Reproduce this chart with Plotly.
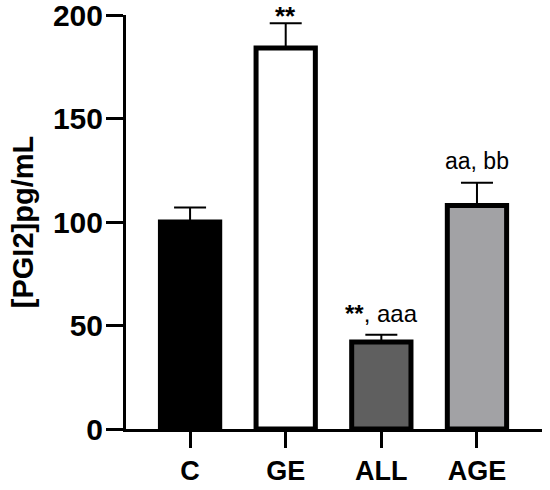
import plotly.graph_objects as go

categories = ["C", "GE", "ALL", "AGE"]
values = [100, 184, 42, 108]
errors = [7, 12, 3.5, 11]
fills = ["#000000", "#ffffff", "#5f5f5f", "#a2a2a5"]
labels = ["", "<b>**</b>", "<b>**</b>, aaa", "aa, bb"]
label_sizes = [20, 26, 24, 23]
label_shifts = [0, -10, 6, 7]

FONT = "Arial, Liberation Sans, sans-serif"

fig = go.Figure()
fig.add_trace(go.Bar(
    x=categories, y=values, width=0.62,
    marker=dict(color=fills, line=dict(color="black", width=5)),
    error_y=dict(type="data", symmetric=False, array=errors,
                 arrayminus=[0] * len(errors), color="black",
                 thickness=2, width=16),
    showlegend=False,
))

for c, v, e, t, s, sh in zip(categories, values, errors, labels, label_sizes, label_shifts):
    if not t:
        continue
    fig.add_annotation(x=c, y=v + e, text=t, showarrow=False,
                       xanchor="center", yanchor="bottom", yshift=sh,
                       font=dict(family=FONT, size=s, color="black"))

fig.update_layout(
    width=550, height=490,
    margin=dict(l=126, r=8, t=15, b=61),
    plot_bgcolor="white", paper_bgcolor="white",
    font=dict(family=FONT, color="black"),
)
fig.update_xaxes(
    range=[-0.67, 3.68], showline=True, linewidth=3, linecolor="black",
    ticks="outside", ticklen=16, tickwidth=3, tickcolor="black",
    tickfont=dict(family=FONT, size=27, color="black", weight="bold"),
    showgrid=False, zeroline=False, fixedrange=True, automargin=False,
)
fig.update_yaxes(
    range=[0, 200], tickvals=[0, 50, 100, 150, 200],
    showline=True, linewidth=3, linecolor="black",
    ticks="outside", ticklen=17, tickwidth=3, tickcolor="black",
    ticklabeloverflow="allow", ticklabelstandoff=-3,
    tickfont=dict(family=FONT, size=30, color="black", weight="bold"),
    title=dict(text="[PGI2]pg/mL", standoff=11,
               font=dict(family=FONT, size=29, color="black", weight="bold")),
    showgrid=False, zeroline=False, fixedrange=True, automargin=False,
)

fig.write_html("out.html", config={"displayModeBar": False},
               post_script="document.body.style.margin='0';document.body.style.overflow='hidden';")
